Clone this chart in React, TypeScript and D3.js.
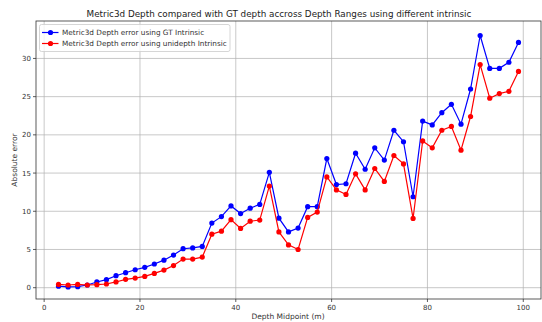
import React, { useEffect, useRef } from 'react';
import * as d3 from 'd3';

const depthMid = [3, 5, 7, 9, 11, 13, 15, 17, 19, 21, 23, 25, 27, 29, 31, 33, 35, 37, 39, 41, 43, 45, 47, 49, 51, 53, 55, 57, 59, 61, 63, 65, 67, 69, 71, 73, 75, 77, 79, 81, 83, 85, 87, 89, 91, 93, 95, 97, 99];
const gtError = [0.2, 0.1, 0.13, 0.35, 0.75, 1.05, 1.57, 1.96, 2.35, 2.66, 3.1, 3.6, 4.27, 5.1, 5.2, 5.4, 8.45, 9.3, 10.7, 9.7, 10.4, 10.9, 15.1, 9.1, 7.3, 7.8, 10.6, 10.6, 16.9, 13.5, 13.6, 17.6, 15.5, 18.3, 16.7, 20.6, 19.1, 11.9, 21.8, 21.3, 22.9, 24.0, 21.4, 26.0, 33.0, 28.7, 28.7, 29.5, 32.1];
const unidepthError = [0.43, 0.35, 0.43, 0.35, 0.39, 0.48, 0.75, 1.09, 1.26, 1.48, 1.87, 2.3, 2.9, 3.75, 3.75, 4.0, 7.0, 7.4, 8.9, 7.75, 8.7, 8.85, 13.3, 7.3, 5.6, 5.0, 9.2, 9.9, 14.5, 12.8, 12.2, 14.9, 12.8, 15.6, 13.9, 17.3, 16.2, 9.06, 19.2, 18.3, 20.6, 21.1, 18.0, 22.4, 29.2, 24.8, 25.4, 25.7, 28.3];
const xTicks = [0, 20, 40, 60, 80, 100];
const yTicks = [0, 5, 10, 15, 20, 25, 30];

const series = [
  { name: 'Metric3d Depth error using GT Intrinsic', values: gtError, color: '#0000ff' },
  { name: 'Metric3d Depth error using unidepth Intrinsic', values: unidepthError, color: '#ff0000' },
];

const DepthChart = () => {
  const ref = useRef<SVGSVGElement>(null);

  useEffect(() => {
    const svg = d3.select(ref.current);
    svg.selectAll('*').remove();

    const width = 542, height = 322;
    const left = 36, right = 541, top = 21, bottom = 299;
    const font = 'DejaVu Sans, sans-serif';

    svg.attr('width', width).attr('height', height);
    svg.append('rect').attr('width', width).attr('height', height).attr('fill', '#fff');

    const x = d3.scaleLinear().domain([-1.7, 103.7]).range([left, right]);
    const y = d3.scaleLinear().domain([-1.48, 34.9]).range([bottom, top]);

    const grid = svg.append('g');
    xTicks.forEach((t) => {
      grid.append('line')
        .attr('x1', x(t)).attr('x2', x(t)).attr('y1', top).attr('y2', bottom)
        .attr('stroke', '#b0b0b0').attr('stroke-width', 0.7);
    });
    yTicks.forEach((t) => {
      grid.append('line')
        .attr('x1', left).attr('x2', right).attr('y1', y(t)).attr('y2', y(t))
        .attr('stroke', '#b0b0b0').attr('stroke-width', 0.7);
    });

    const line = d3.line<number>()
      .x((d, i) => x(depthMid[i]))
      .y((d) => y(d));

    series.forEach((s) => {
      svg.append('path')
        .datum(s.values)
        .attr('d', line)
        .attr('fill', 'none')
        .attr('stroke', s.color)
        .attr('stroke-width', 1.2);
      svg.append('g').selectAll('circle')
        .data(s.values)
        .join('circle')
        .attr('cx', (d, i) => x(depthMid[i]))
        .attr('cy', (d) => y(d))
        .attr('r', 2.6)
        .attr('fill', s.color);
    });

    svg.append('rect')
      .attr('x', left).attr('y', top)
      .attr('width', right - left).attr('height', bottom - top)
      .attr('fill', 'none').attr('stroke', '#333').attr('stroke-width', 0.8);

    xTicks.forEach((t) => {
      svg.append('line')
        .attr('x1', x(t)).attr('x2', x(t)).attr('y1', bottom).attr('y2', bottom + 3)
        .attr('stroke', '#333').attr('stroke-width', 0.8);
      svg.append('text')
        .attr('x', x(t)).attr('y', bottom + 11)
        .attr('text-anchor', 'middle')
        .attr('font-family', font).attr('font-size', 7).attr('fill', '#333')
        .text(t);
    });
    yTicks.forEach((t) => {
      svg.append('line')
        .attr('x1', left - 3).attr('x2', left).attr('y1', y(t)).attr('y2', y(t))
        .attr('stroke', '#333').attr('stroke-width', 0.8);
      svg.append('text')
        .attr('x', left - 5).attr('y', y(t))
        .attr('dy', '0.35em')
        .attr('text-anchor', 'end')
        .attr('font-family', font).attr('font-size', 7).attr('fill', '#333')
        .text(t);
    });

    svg.append('text')
      .attr('x', 279).attr('y', 17)
      .attr('text-anchor', 'middle')
      .attr('font-family', font).attr('font-size', 8.8).attr('fill', '#222')
      .text('Metric3d Depth compared with GT depth accross Depth Ranges using different intrinsic');

    svg.append('text')
      .attr('x', 288).attr('y', 319)
      .attr('text-anchor', 'middle')
      .attr('font-family', font).attr('font-size', 7.5).attr('fill', '#333')
      .text('Depth Midpoint (m)');

    svg.append('text')
      .attr('transform', `translate(14, ${(top + bottom) / 2}) rotate(-90)`)
      .attr('text-anchor', 'middle')
      .attr('dy', '0.35em')
      .attr('font-family', font).attr('font-size', 7.5).attr('fill', '#333')
      .text('Absolute error');

    const legend = svg.append('g').attr('transform', 'translate(39.5, 24.5)');
    legend.append('rect')
      .attr('width', 190.5).attr('height', 27).attr('rx', 2)
      .attr('fill', '#fff').attr('fill-opacity', 0.8)
      .attr('stroke', '#ccc').attr('stroke-width', 0.8);
    series.forEach((s, i) => {
      const ly = 8 + i * 11;
      legend.append('line')
        .attr('x1', 2.5).attr('x2', 19).attr('y1', ly).attr('y2', ly)
        .attr('stroke', s.color).attr('stroke-width', 1.2);
      legend.append('circle').attr('cx', 11).attr('cy', ly).attr('r', 2.6).attr('fill', s.color);
      legend.append('text')
        .attr('x', 22.5).attr('y', ly).attr('dy', '0.35em')
        .attr('font-family', font).attr('font-size', 7.3).attr('fill', '#333')
        .text(s.name);
    });
  }, []);

  return <svg ref={ref} style={{ position: 'absolute', left: 0, top: 0 }}></svg>;
};

export default function App() {
  return <DepthChart />;
}
